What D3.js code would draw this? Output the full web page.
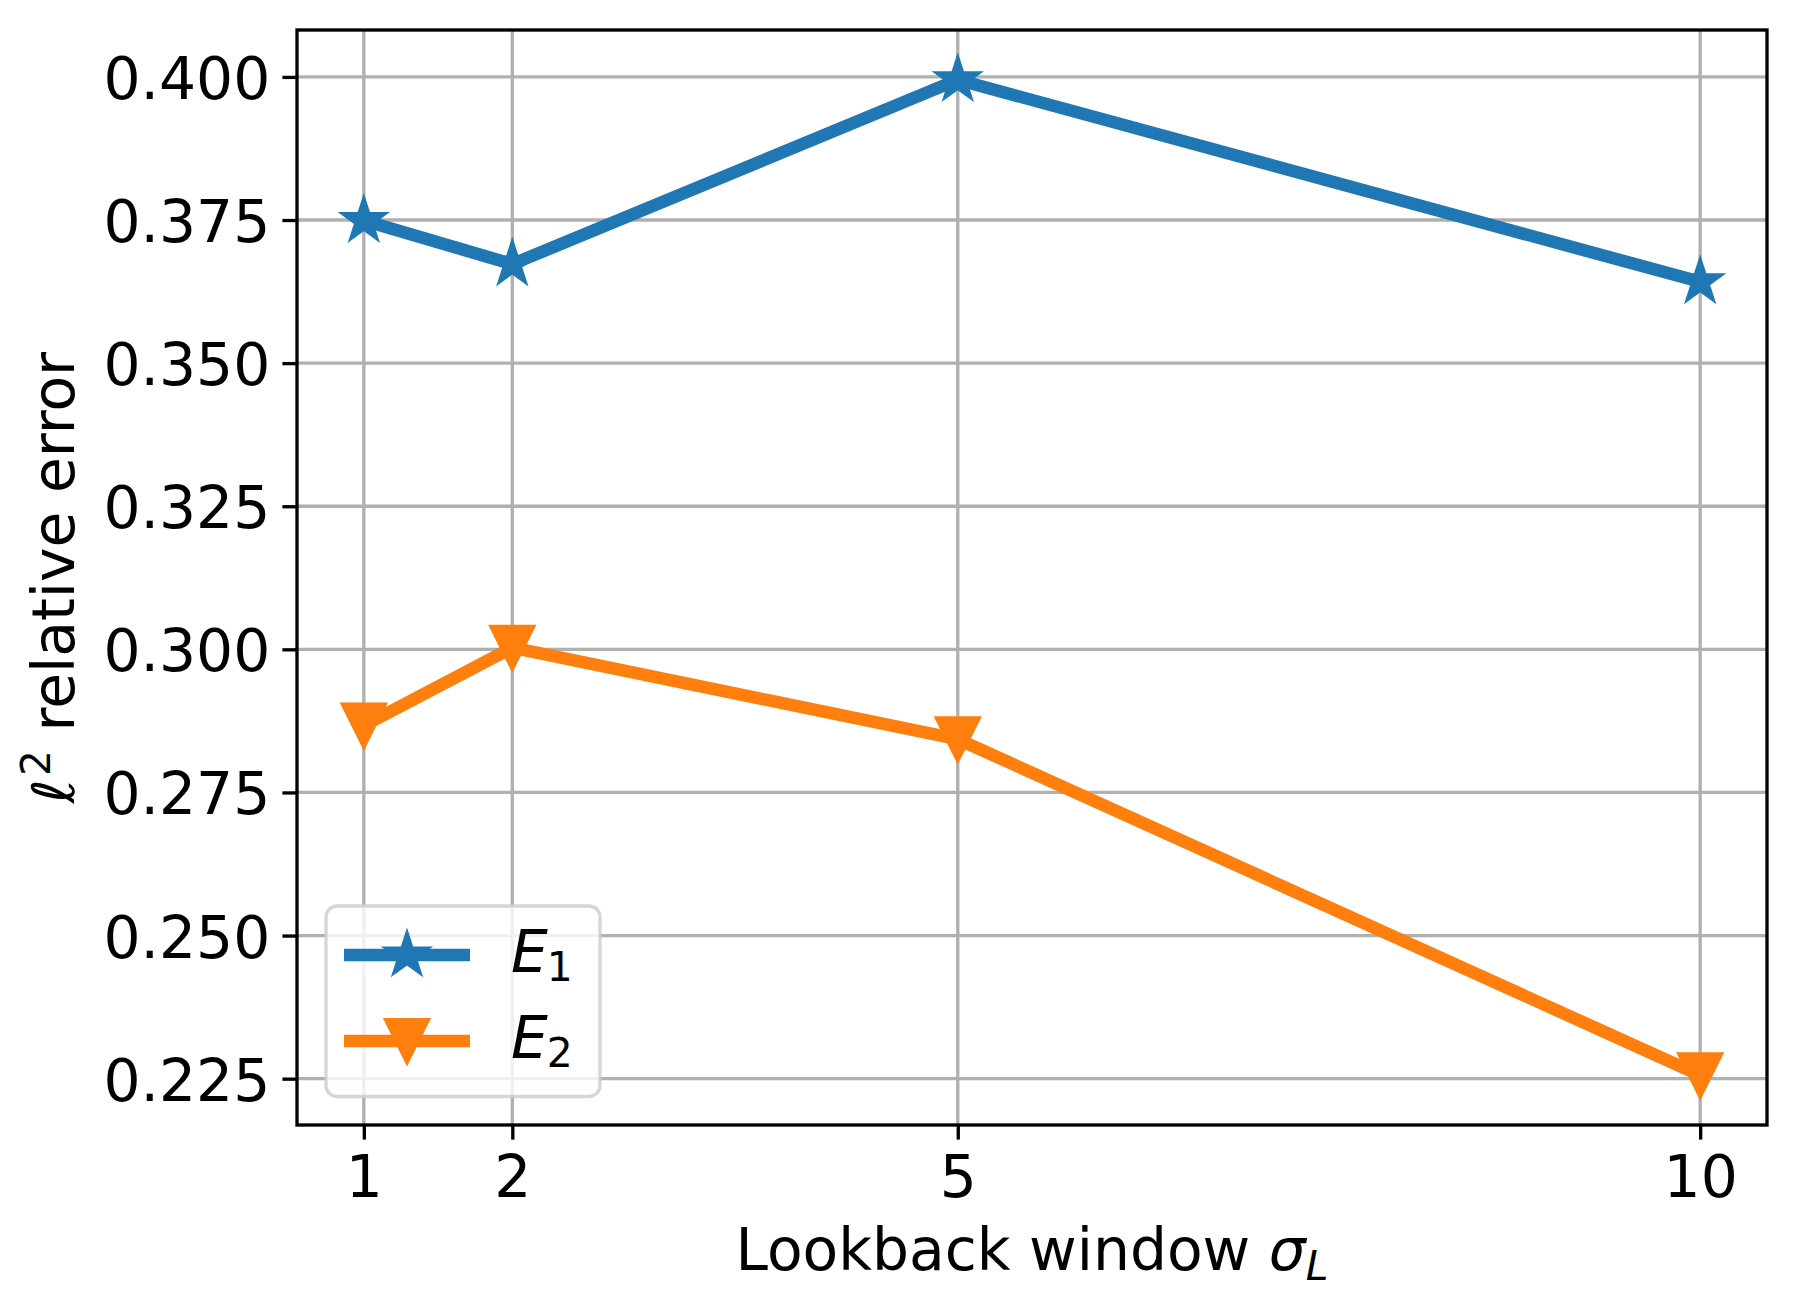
<!DOCTYPE html>
<html>
<head>
<meta charset="utf-8">
<script src="https://cdn.jsdelivr.net/npm/d3@7"></script>
<style>
  html, body { margin: 0; padding: 0; background: #fff; }
  svg { display: block; }
  text { font-family: "DejaVu Sans", sans-serif; fill: #000; }
</style>
</head>
<body>
<svg id="chart" width="1797" height="1314"></svg>
<script>
// ---- data ----
const windows = [1, 2, 5, 10];
const e1Values = [0.3749, 0.3673, 0.3995, 0.3642];
const e2Values = [0.2867, 0.3003, 0.2843, 0.2256];
const xTicks = [1, 2, 5, 10];
const yTicks = [0.225, 0.250, 0.275, 0.300, 0.325, 0.350, 0.375, 0.400];
const seriesNames = ["1", "2"];
const seriesColors = ["#1f77b4", "#ff7f0e"];

(function () {
// ---- geometry ----
const axL = 297, axR = 1767, axT = 30, axB = 1125;
const FS = 58.3;          // 14pt at 300 dpi
const LW = 12.5;          // 3pt
const R = 20.8;           // half of markersize 10pt
const EDGE = 4.17;        // marker edge 1pt
const GRID = 3.33, SPINE = 3.33, TICKLEN = 14.6, PAD = 14.6;

const svg = d3.select("#chart");

const xPad = (d3.max(windows) - d3.min(windows)) * 0.05;
const x = d3.scaleLinear()
  .domain([d3.min(windows) - xPad, d3.max(windows) + xPad])
  .range([axL, axR]);
const allY = e1Values.concat(e2Values);
const yMin = d3.min(allY), yMax = d3.max(allY);
const yPad = (yMax - yMin) * 0.05;
const y = d3.scaleLinear()
  .domain([yMin - yPad, yMax + yPad])
  .range([axB, axT]);

// ---- grid ----
const grid = svg.append("g");
grid.selectAll("line.gx").data(xTicks).join("line")
  .attr("class", "gx")
  .attr("x1", d => x(d)).attr("x2", d => x(d))
  .attr("y1", axT).attr("y2", axB)
  .attr("stroke", "#b0b0b0").attr("stroke-width", GRID);
grid.selectAll("line.gy").data(yTicks).join("line")
  .attr("class", "gy")
  .attr("y1", d => y(d)).attr("y2", d => y(d))
  .attr("x1", axL).attr("x2", axR)
  .attr("stroke", "#b0b0b0").attr("stroke-width", GRID);

// ---- axes (ticks + labels) ----
const xAxis = d3.axisBottom(x).tickValues(xTicks).tickFormat(d3.format("d"))
  .tickSizeInner(TICKLEN).tickSizeOuter(0).tickPadding(PAD);
const gx = svg.append("g").attr("transform", `translate(0,${axB})`).call(xAxis);
gx.select(".domain").remove();
gx.selectAll(".tick line").attr("stroke", "#000").attr("stroke-width", SPINE);
gx.selectAll(".tick text")
  .attr("font-size", FS).attr("font-family", "DejaVu Sans")
  .attr("dy", null).attr("y", TICKLEN + PAD + 42.3);

const yAxis = d3.axisLeft(y).tickValues(yTicks).tickFormat(d3.format(".3f"))
  .tickSizeInner(TICKLEN).tickSizeOuter(0).tickPadding(PAD - 2.5);
const gy = svg.append("g").attr("transform", `translate(${axL},0)`).call(yAxis);
gy.select(".domain").remove();
gy.selectAll(".tick line").attr("stroke", "#000").attr("stroke-width", SPINE);
gy.selectAll(".tick text")
  .attr("font-size", FS).attr("font-family", "DejaVu Sans")
  .attr("dy", null).attr("y", 21.5);

// ---- series ----
function starPath(r) {
  const inner = r * 0.381966;
  const pts = [];
  for (let i = 0; i < 10; i++) {
    const rr = i % 2 === 0 ? r : inner;
    const a = -Math.PI / 2 + i * Math.PI / 5;
    pts.push([rr * Math.cos(a), rr * Math.sin(a)]);
  }
  return "M" + pts.map(p => p[0].toFixed(2) + "," + p[1].toFixed(2)).join("L") + "Z";
}
function triDownPath(r) {
  return `M0,${r}L${-r},${-r}L${r},${-r}Z`;
}
const markers = [starPath(R), triDownPath(R)];
const series = [e1Values, e2Values];

const line = d3.line().x(d => x(d[0])).y(d => y(d[1]));
const plot = svg.append("g");
series.forEach((vals, i) => {
  const pts = windows.map((w, j) => [w, vals[j]]);
  plot.append("path")
    .attr("d", line(pts))
    .attr("fill", "none")
    .attr("stroke", seriesColors[i])
    .attr("stroke-width", LW)
    .attr("stroke-linejoin", "round")
    .attr("stroke-linecap", "butt");
  plot.append("g").selectAll("path").data(pts).join("path")
    .attr("d", markers[i])
    .attr("transform", d => `translate(${x(d[0])},${y(d[1])})`)
    .attr("fill", seriesColors[i])
    .attr("stroke", seriesColors[i])
    .attr("stroke-width", EDGE)
    .attr("stroke-linejoin", "miter");
});

// ---- spines ----
svg.append("rect")
  .attr("x", axL).attr("y", axT)
  .attr("width", axR - axL).attr("height", axB - axT)
  .attr("fill", "none").attr("stroke", "#000").attr("stroke-width", SPINE);

// ---- axis labels ----
const xl = svg.append("text")
  .attr("x", (axL + axR) / 2).attr("y", 1269.5)
  .attr("text-anchor", "middle").attr("font-size", FS);
xl.append("tspan").text("Lookback window ");
xl.append("tspan").attr("font-style", "italic").text("σ");
xl.append("tspan").attr("font-style", "italic").attr("font-size", FS * 0.7)
  .attr("dy", 10).text("L");

const yl = svg.append("text")
  .attr("transform", `translate(74,${(axT + axB) / 2}) rotate(-90)`)
  .attr("text-anchor", "middle").attr("font-size", FS);
yl.append("tspan").attr("font-style", "italic").text("ℓ");
yl.append("tspan").attr("font-size", FS * 0.7).attr("dx", 3).attr("dy", -24).text("2");
yl.append("tspan").attr("dy", 24).text(" relative error");

// ---- legend ----
const lg = svg.append("g");
lg.append("rect")
  .attr("x", 326).attr("y", 906)
  .attr("width", 274).attr("height", 190.5)
  .attr("rx", 11).attr("ry", 11)
  .attr("fill", "rgba(255,255,255,0.8)")
  .attr("stroke", "rgba(204,204,204,0.8)")
  .attr("stroke-width", SPINE);
const legendY = [955, 1041];
seriesNames.forEach((n, i) => {
  const cy = legendY[i];
  lg.append("line")
    .attr("x1", 344).attr("x2", 470)
    .attr("y1", cy).attr("y2", cy)
    .attr("stroke", seriesColors[i]).attr("stroke-width", LW);
  lg.append("path")
    .attr("d", markers[i])
    .attr("transform", `translate(407,${cy})`)
    .attr("fill", seriesColors[i]).attr("stroke", seriesColors[i])
    .attr("stroke-width", EDGE).attr("stroke-linejoin", "miter");
  const t = lg.append("text")
    .attr("x", 511).attr("y", cy + 17).attr("font-size", FS);
  t.append("tspan").attr("font-style", "italic").text("E");
  t.append("tspan").attr("font-size", FS * 0.7).attr("dx", -1).attr("dy", 9).text(n);
});
})();
</script>
</body>
</html>
